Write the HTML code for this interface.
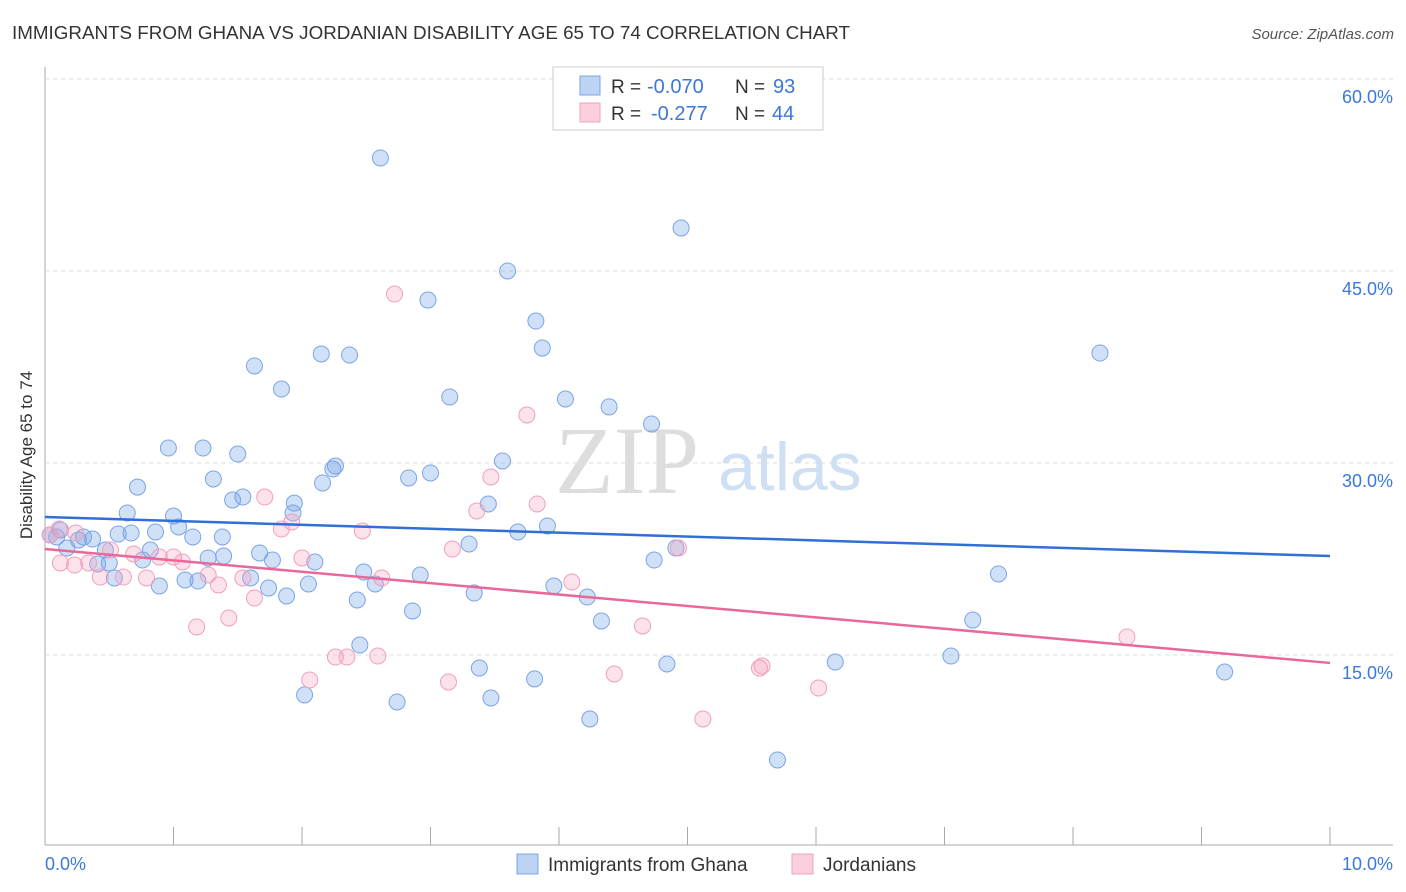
<!DOCTYPE html>
<html><head><meta charset="utf-8"><style>
body{margin:0;background:#fff;font-family:"Liberation Sans",sans-serif;}
#wrap{position:relative;width:1406px;height:892px;overflow:hidden;}
</style></head><body>
<div id="wrap">
<svg id="svg" width="1406" height="892" xmlns="http://www.w3.org/2000/svg">
<text x="12" y="39" font-size="18" fill="#333" textLength="838" lengthAdjust="spacingAndGlyphs">IMMIGRANTS FROM GHANA VS JORDANIAN DISABILITY AGE 65 TO 74 CORRELATION CHART</text>
<text x="1394" y="39" font-size="15" fill="#555" font-style="italic" text-anchor="end">Source: ZipAtlas.com</text>
<text x="32" y="455" font-size="17" fill="#333" text-anchor="middle" transform="rotate(-90 32 455)">Disability Age 65 to 74</text>
<text x="555" y="493" font-size="96" fill="#ddd" font-family="Liberation Serif,serif">ZIP</text>
<text x="718" y="490" font-size="68" fill="#cfe0f4">atlas</text>
<g id="grid"></g><g id="pts"></g><g id="lines"></g>
<g>
<rect x="553" y="67" width="270" height="63" fill="#fff" stroke="#ccc"/>
<rect x="580" y="76" width="20" height="19" fill="#bcd3f3" stroke="#7aa5e6"/>
<rect x="580" y="103" width="20" height="19" fill="#fbcfdc" stroke="#f0a0bc"/>
<text x="611" y="93" font-size="19" fill="#333">R =</text>
<text x="647" y="93" font-size="20" fill="#3b78d8">-0.070</text>
<text x="735" y="93" font-size="19" fill="#333">N =</text>
<text x="773" y="93" font-size="20" fill="#3b78d8">93</text>
<text x="611" y="120" font-size="19" fill="#333">R =</text>
<text x="651" y="120" font-size="20" fill="#3b78d8">-0.277</text>
<text x="735" y="120" font-size="19" fill="#333">N =</text>
<text x="772" y="120" font-size="20" fill="#3b78d8">44</text>
</g>
<g>
<rect x="517" y="854" width="21" height="20" fill="#bcd3f3" stroke="#7aa5e6"/>
<text x="548" y="871" font-size="19" fill="#333">Immigrants from Ghana</text>
<rect x="792" y="854" width="21" height="20" fill="#fbcfdc" stroke="#f0a0bc"/>
<text x="823" y="871" font-size="19" fill="#333">Jordanians</text>
</g>
</svg></div>
<script>
const xTicks=[0,1,2,3,4,5,6,7,8,9,10];
const yTicks=[15,30,45,60];
const blueX=[2.61,4.95,3.60,2.98,3.82,3.87,2.15,2.37,8.21,1.63,1.84,3.15,4.05,4.39,4.72,0.96,1.23,1.50,2.26,2.24,3.56,3.00,2.83,1.31,0.72,2.16,1.54,1.46,1.94,3.45,0.64,1.93,1.00,1.04,3.91,3.68,0.86,0.67,0.57,0.12,0.04,0.09,0.30,0.37,0.26,1.15,1.38,3.30,4.91,0.17,0.47,0.82,1.67,1.39,1.27,0.76,1.77,2.10,0.50,0.41,4.74,2.48,2.92,7.42,0.54,1.60,1.09,1.19,2.57,0.89,2.05,3.96,1.74,3.34,4.22,1.88,2.43,2.86,4.33,7.22,2.45,6.15,7.05,4.84,3.38,9.18,3.81,2.02,3.47,2.74,4.24,5.70];
const blueY=[53.83,48.36,45.0,42.73,41.09,38.98,38.52,38.44,38.59,37.58,35.78,35.16,35.0,34.38,33.05,31.17,31.17,30.7,29.77,29.53,30.16,29.22,28.83,28.75,28.12,28.44,27.34,27.11,26.87,26.8,26.09,26.09,25.86,25.0,25.08,24.61,24.61,24.53,24.45,24.77,24.38,24.22,24.22,24.06,23.98,24.22,24.22,23.67,23.36,23.36,23.2,23.2,22.97,22.73,22.58,22.42,22.42,22.27,22.19,22.11,22.42,21.48,21.25,21.33,21.02,21.02,20.86,20.78,20.55,20.39,20.55,20.39,20.23,19.84,19.53,19.61,19.30,18.44,17.66,17.73,15.78,14.45,14.92,14.30,13.98,13.67,13.13,11.88,11.64,11.33,10.0,6.80];
const pinkX=[2.72,3.75,3.47,1.71,3.83,3.36,1.92,1.84,2.47,0.11,0.04,0.24,0.51,3.17,4.93,0.69,0.89,1.00,1.07,0.12,0.23,0.34,2.00,1.27,1.54,2.62,4.10,0.61,0.43,0.79,1.35,1.63,1.43,1.18,4.65,8.42,2.26,2.35,2.59,5.58,5.56,4.43,2.06,3.14,6.02,5.12];
const pinkY=[43.2,33.75,28.91,27.34,26.80,26.25,25.39,24.84,24.69,24.84,24.38,24.53,23.20,23.28,23.36,22.89,22.66,22.66,22.27,22.19,22.03,22.19,22.58,21.25,21.02,21.02,20.70,21.09,21.09,21.02,20.47,19.45,17.89,17.19,17.27,16.41,14.84,14.84,14.92,14.14,13.98,13.52,13.05,12.89,12.42,10.0];
const blueTrend=[25.78,22.73];
const pinkTrend=[23.28,14.38];
const NS='http://www.w3.org/2000/svg';
const X=v=>45+v*128.5, Y=v=>79+(60-v)*12.8;
function mk(t,a,p){const e=document.createElementNS(NS,t);for(const k in a)e.setAttribute(k,a[k]);p.appendChild(e);return e;}
const grid=document.getElementById('grid');
const ax=mk('line',{x1:45,y1:67,x2:45,y2:845,stroke:'#aaa'},grid);


const bx=mk('line',{x1:45,y1:845,x2:1393,y2:845,stroke:'#aaa'},grid);


yTicks.forEach(v=>{
  const g=mk('line',{x1:45,y1:Y(v),x2:1393,y2:Y(v),stroke:'#ddd','stroke-dasharray':'4,4'},grid);
  
  
  const t=mk('text',{x:1393,y:Y(v)+24,'font-size':18,fill:'#3b78d8','text-anchor':'end'},grid);
  t.textContent=v.toFixed(1)+'%';
  
  
});
xTicks.forEach(v=>{
  const l=mk('line',{x1:X(v),y1:827,x2:X(v),y2:845,stroke:'#aaa'},grid);
  
  
});
[[0,'0.0%','start',45],[10,'10.0%','end',1393]].forEach(d=>{
  const t=mk('text',{x:d[3],y:870,'font-size':18,fill:'#3b78d8','text-anchor':d[2]},grid);
  t.textContent=d[1];
  
  
});
const pts=document.getElementById('pts');
blueX.forEach((x,i)=>{
  const c=mk('circle',{cx:X(x),cy:Y(blueY[i]),r:8,fill:'rgba(120,165,230,0.35)',stroke:'#7aa5e6','stroke-width':1},pts);
  
  
});
pinkX.forEach((x,i)=>{
  const c=mk('circle',{cx:X(x),cy:Y(pinkY[i]),r:8,fill:'rgba(245,160,190,0.3)',stroke:'#f0a0bc','stroke-width':1},pts);
  
  
});
const lines=document.getElementById('lines');
const bl=mk('line',{x1:X(0),y1:Y(blueTrend[0]),x2:X(10),y2:Y(blueTrend[1]),stroke:'#2f6fd6','stroke-width':2.5},lines);


const pl=mk('line',{x1:X(0),y1:Y(pinkTrend[0]),x2:X(10),y2:Y(pinkTrend[1]),stroke:'#e8689a','stroke-width':2.5},lines);


</script>
</body></html>
